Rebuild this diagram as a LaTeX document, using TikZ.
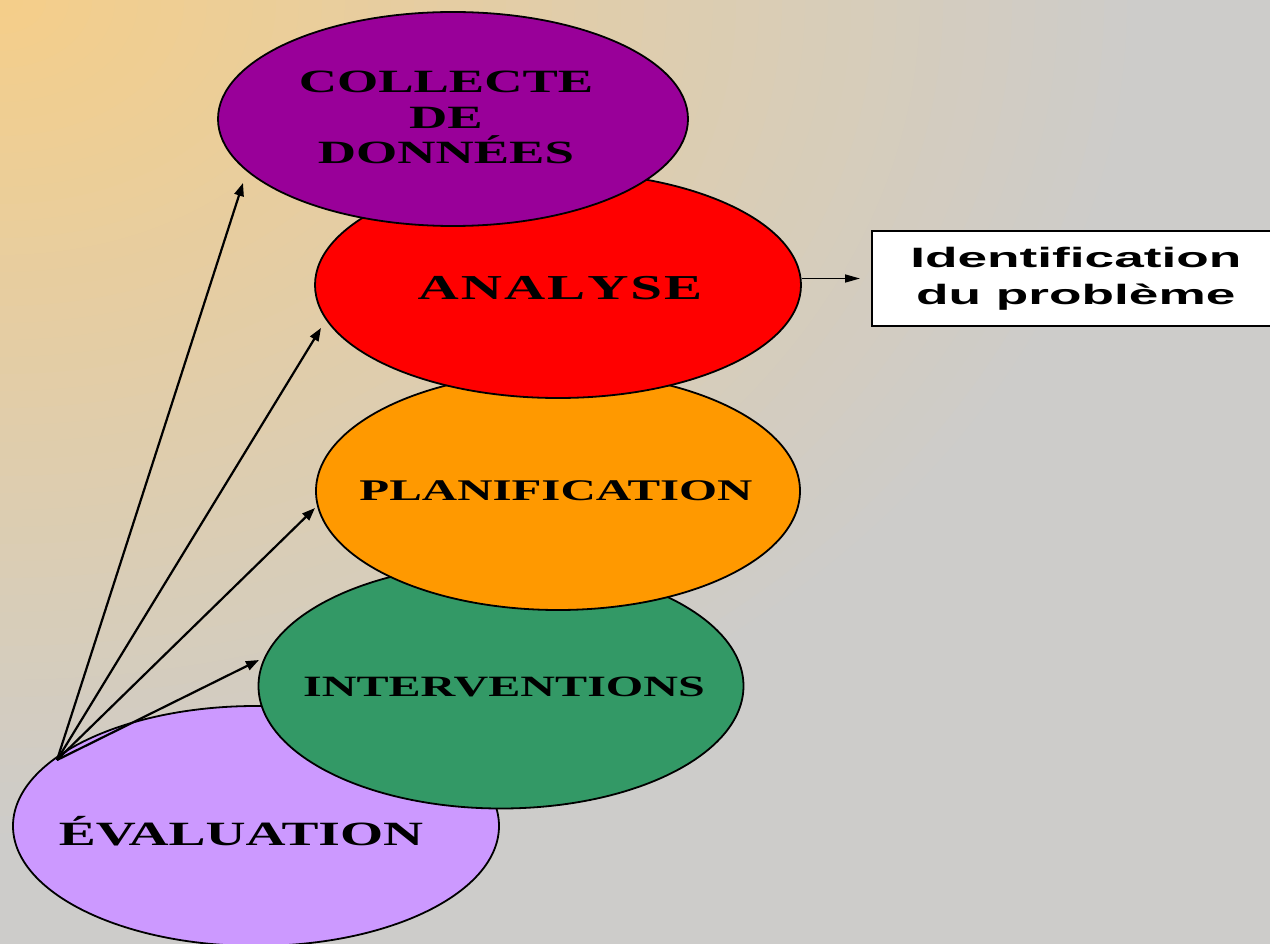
\documentclass[tikz,border=0pt]{standalone}
\usepackage{fontspec}
\setmainfont{Liberation Serif}
\newfontfamily\wserif[FakeStretch=1.63]{Liberation Serif Bold}
\newfontfamily\wsans[FakeStretch=1.9]{Liberation Sans Bold}
\usetikzlibrary{shapes.geometric,arrows.meta}
\definecolor{bgA}{HTML}{F5CE89}
\definecolor{bgB}{HTML}{CDCCCA}
\definecolor{cCol}{HTML}{990099}
\definecolor{cAna}{HTML}{FF0000}
\definecolor{cPla}{HTML}{FF9900}
\definecolor{cInt}{HTML}{339966}
\definecolor{cEva}{HTML}{CC99FF}
\tikzset{
  ell/.style={ellipse, draw=black, line width=1.8pt, inner sep=0pt},
  lbl/.style={inner sep=0pt, text=black},
  arr/.style={line width=2.2pt, -{Triangle[length=13pt,width=9.5pt]}},
  arrb/.style={line width=1.5pt, -{Triangle[length=15pt,width=8pt]}},
  idbox/.style={draw=black, fill=white, line width=1.6pt, inner sep=0pt, align=center}
}
\begin{document}
\begin{tikzpicture}[x=1pt,y=-1pt]
\useasboundingbox (0,0) rectangle (1270,944);
\begin{scope}
\clip (0,0) rectangle (1270,944);
\fill[bgB] (0,0) rectangle (1270,944);
\foreach \i in {50,49,...,1}{
  \pgfmathsetmacro\pc{100-2*\i}
  \fill[bgA!\pc!bgB] (0,0) ellipse ({\i*23} and {\i*17});
}
\end{scope}
% ellipses, bottom to top
\node[ell, fill=cEva, minimum width=486pt, minimum height=240pt] (eva) at (256,826) {};
\node[ell, fill=cInt, minimum width=485pt, minimum height=245pt] (int) at (501,686) {};
\node[ell, fill=cPla, minimum width=484pt, minimum height=238pt] (pla) at (558,491) {};
\node[ell, fill=cAna, minimum width=486pt, minimum height=226pt] (ana) at (558,285) {};
\node[ell, fill=cCol, minimum width=470pt, minimum height=214pt] (col) at (453,119) {};
% labels
\node[lbl, align=center, font={\wserif\fontsize{32.5}{35.5}\selectfont}] (colT) at (446,117.5) {COLLECTE\\DE\\DONNÉES};
\node[lbl, anchor=base, font={\wserif\fontsize{35}{40}\selectfont}] (anaT) at (560,300) {A\kern2pt N\kern2pt A\kern2pt L\kern2pt Y\kern2pt S\kern2pt E};
\node[lbl, anchor=base, font={\wserif\fontsize{30}{34}\selectfont}] (plaT) at (556,500) {PLANIFICATION};
\node[lbl, anchor=base, font={\wserif\fontsize{29.5}{34}\selectfont}] (intT) at (504,696) {INTERVENTIONS};
\node[lbl, anchor=base, font={\wserif\fontsize{34}{38}\selectfont}] (evaT) at (241,845) {ÉVALUATION};
% identification box
\node[idbox, anchor=west, minimum width=408pt, minimum height=95pt, font={\wsans\fontsize{28}{37}\selectfont}] (box) at (871,278.5) {Identification\\du problème};
\draw[arrb, shorten >=11pt] (ana.east |- box.west) -- (box.west);
% arrows from evaluation
\coordinate (src) at (57,760);
\coordinate (tCol) at (243,183);
\coordinate (tAna) at (321,328);
\coordinate (tPla) at (315,508);
\coordinate (tInt) at (259,660);
\draw[arr] (src) -- (tCol);
\draw[arr] (src) -- (tAna);
\draw[arr] (src) -- (tPla);
\draw[arr] (src) -- (tInt);
\end{tikzpicture}
\end{document}
